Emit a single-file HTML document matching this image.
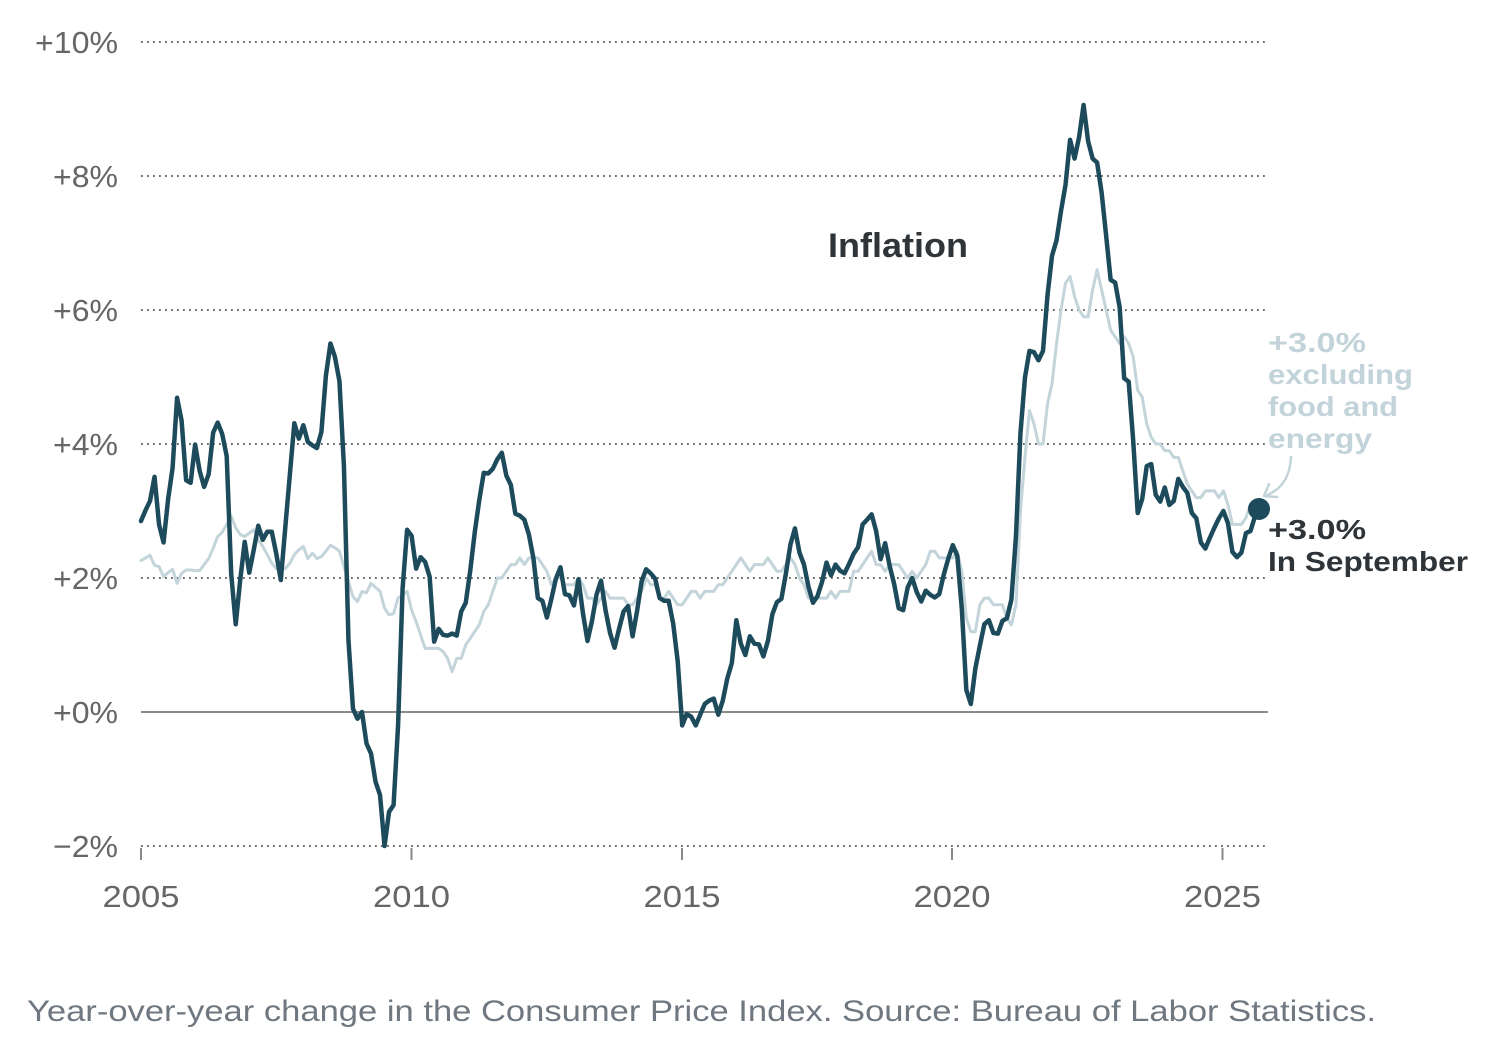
<!DOCTYPE html>
<html>
<head>
<meta charset="utf-8">
<style>
  html, body { margin:0; padding:0; background:#ffffff; }
  body { width:1504px; height:1060px; overflow:hidden; }
  svg { display:block; }
  text { font-family:"Liberation Sans", "DejaVu Sans", sans-serif; }
</style>
</head>
<body>
<svg width="1504" height="1060" viewBox="0 0 1504 1060" xmlns="http://www.w3.org/2000/svg">
  <!-- gridlines -->
  <g stroke="#555" stroke-width="1.8" stroke-dasharray="1.8 4.2" fill="none">
    <line x1="141" y1="42" x2="1268" y2="42"/>
    <line x1="141" y1="176" x2="1268" y2="176"/>
    <line x1="141" y1="310" x2="1268" y2="310"/>
    <line x1="141" y1="444" x2="1268" y2="444"/>
    <line x1="141" y1="578" x2="1268" y2="578"/>
    <line x1="141" y1="846" x2="1268" y2="846"/>
  </g>
  <line x1="141" y1="712" x2="1268" y2="712" stroke="#8a8a8a" stroke-width="2"/>
  <!-- ticks -->
  <g stroke="#8a8a8a" stroke-width="2">
    <line x1="141" y1="848" x2="141" y2="860"/>
    <line x1="411.5" y1="848" x2="411.5" y2="860"/>
    <line x1="682" y1="848" x2="682" y2="860"/>
    <line x1="952" y1="848" x2="952" y2="860"/>
    <line x1="1222.5" y1="848" x2="1222.5" y2="860"/>
  </g>
  <!-- y labels -->
  <g fill="#666" font-size="31" text-anchor="end">
    <text x="118" y="53" textLength="83" lengthAdjust="spacingAndGlyphs">+10%</text>
    <text x="118" y="187" textLength="65" lengthAdjust="spacingAndGlyphs">+8%</text>
    <text x="118" y="321" textLength="65" lengthAdjust="spacingAndGlyphs">+6%</text>
    <text x="118" y="455" textLength="65" lengthAdjust="spacingAndGlyphs">+4%</text>
    <text x="118" y="589" textLength="65" lengthAdjust="spacingAndGlyphs">+2%</text>
    <text x="118" y="723" textLength="65" lengthAdjust="spacingAndGlyphs">+0%</text>
    <text x="118" y="857" textLength="65" lengthAdjust="spacingAndGlyphs">−2%</text>
  </g>
  <!-- x labels -->
  <g fill="#666" font-size="31" text-anchor="middle">
    <text x="141" y="907" textLength="77" lengthAdjust="spacingAndGlyphs">2005</text>
    <text x="411.5" y="907" textLength="77" lengthAdjust="spacingAndGlyphs">2010</text>
    <text x="682" y="907" textLength="77" lengthAdjust="spacingAndGlyphs">2015</text>
    <text x="952" y="907" textLength="77" lengthAdjust="spacingAndGlyphs">2020</text>
    <text x="1222.5" y="907" textLength="77" lengthAdjust="spacingAndGlyphs">2025</text>
  </g>

  <!-- core series -->
  <g transform="matrix(4.51 0 0 -67 141 712)">
    <polyline fill="none" stroke="#c3d4da" stroke-width="3" stroke-linejoin="round" stroke-linecap="round" vector-effect="non-scaling-stroke"
      points="0,2.26 1,2.30 2,2.34 3,2.19 4,2.17 5,2.02 6,2.08 7,2.13 8,1.92 9,2.07 10,2.12 11,2.12
12,2.11 13,2.11 14,2.20 15,2.29 16,2.44 17,2.62 18,2.68 19,2.80 20,2.92 21,2.75 22,2.65 23,2.62
24,2.67 25,2.72 26,2.57 27,2.47 28,2.35 29,2.22 30,2.14 31,2.14 32,2.14 33,2.22 34,2.35 35,2.42
36,2.47 37,2.29 38,2.37 39,2.29 40,2.32 41,2.40 42,2.49 43,2.45 44,2.40 45,2.17 46,1.95 47,1.72
48,1.65 49,1.80 50,1.78 51,1.92 52,1.86 53,1.80 54,1.55 55,1.45 56,1.47 57,1.70 58,1.75 59,1.80
60,1.52 61,1.35 62,1.15 63,0.95 64,0.95 65,0.95 66,0.95 67,0.90 68,0.80 69,0.60 70,0.80 71,0.80
72,1.00 73,1.10 74,1.20 75,1.30 76,1.50 77,1.60 78,1.80 79,2.00 80,2.00 81,2.10 82,2.20 83,2.20
84,2.30 85,2.20 86,2.30 87,2.30 88,2.30 89,2.20 90,2.10 91,1.90 92,2.00 93,2.00 94,1.90 95,1.90
96,1.90 97,2.00 98,1.90 99,1.70 100,1.70 101,1.60 102,1.70 103,1.80 104,1.70 105,1.70 106,1.70 107,1.70
108,1.60 109,1.60 110,1.70 111,1.80 112,2.00 113,1.90 114,1.90 115,1.70 116,1.70 117,1.80 118,1.70 119,1.60
120,1.60 121,1.70 122,1.80 123,1.80 124,1.70 125,1.80 126,1.80 127,1.80 128,1.90 129,1.90 130,2.00 131,2.10
132,2.20 133,2.30 134,2.20 135,2.10 136,2.20 137,2.20 138,2.20 139,2.30 140,2.20 141,2.10 142,2.10 143,2.20
144,2.30 145,2.20 146,2.00 147,1.90 148,1.70 149,1.70 150,1.70 151,1.70 152,1.70 153,1.80 154,1.70 155,1.80
156,1.80 157,1.80 158,2.10 159,2.10 160,2.20 161,2.30 162,2.40 163,2.20 164,2.20 165,2.10 166,2.20 167,2.20
168,2.20 169,2.10 170,2.00 171,2.10 172,2.00 173,2.10 174,2.20 175,2.40 176,2.40 177,2.30 178,2.30 179,2.30
180,2.30 181,2.40 182,2.10 183,1.40 184,1.20 185,1.20 186,1.60 187,1.70 188,1.70 189,1.60 190,1.60 191,1.60
192,1.40 193,1.30 194,1.60 195,3.00 196,3.80 197,4.50 198,4.30 199,4.00 200,4.00 201,4.60 202,4.90 203,5.50
204,6.00 205,6.40 206,6.50 207,6.20 208,6.00 209,5.90 210,5.90 211,6.30 212,6.60 213,6.30 214,6.00 215,5.70
216,5.60 217,5.50 218,5.60 219,5.50 220,5.30 221,4.80 222,4.70 223,4.30 224,4.10 225,4.00 226,4.00 227,3.90
228,3.90 229,3.80 230,3.80 231,3.60 232,3.40 233,3.30 234,3.20 235,3.20 236,3.30 237,3.30 238,3.30 239,3.20
240,3.30 241,3.10 242,2.80 243,2.80 244,2.80 245,2.90 246,3.10 247,3.10 248,3.00"/>
  </g>

  <!-- headline series -->
  <g transform="matrix(4.51 0 0 -67 141 712)">
    <polyline fill="none" stroke="#1d4b5c" stroke-width="4.5" stroke-linejoin="round" stroke-linecap="round" vector-effect="non-scaling-stroke"
      points="0,2.85 1,3.01 2,3.15 3,3.51 4,2.80 5,2.53 6,3.17 7,3.64 8,4.69 9,4.35 10,3.46 11,3.42
12,3.99 13,3.60 14,3.36 15,3.55 16,4.17 17,4.32 18,4.15 19,3.82 20,2.06 21,1.31 22,1.97 23,2.54
24,2.08 25,2.42 26,2.78 27,2.57 28,2.69 29,2.69 30,2.36 31,1.97 32,2.76 33,3.54 34,4.31 35,4.08
36,4.28 37,4.03 38,3.98 39,3.94 40,4.18 41,5.02 42,5.50 43,5.30 44,4.94 45,3.66 46,1.07 47,0.05
48,-0.10 49,0.00 50,-0.47 51,-0.62 52,-1.04 53,-1.24 54,-2.00 55,-1.49 56,-1.39 57,-0.20 58,1.84 59,2.72
60,2.63 61,2.14 62,2.31 63,2.24 64,2.02 65,1.05 66,1.24 67,1.15 68,1.14 69,1.17 70,1.14 71,1.50
72,1.63 73,2.11 74,2.68 75,3.16 76,3.57 77,3.56 78,3.63 79,3.77 80,3.87 81,3.53 82,3.39 83,2.96
84,2.93 85,2.87 86,2.65 87,2.30 88,1.70 89,1.66 90,1.41 91,1.69 92,1.99 93,2.16 94,1.76 95,1.74
96,1.59 97,1.98 98,1.47 99,1.06 100,1.36 101,1.75 102,1.96 103,1.52 104,1.18 105,0.96 106,1.24 107,1.50
108,1.58 109,1.13 110,1.51 111,1.95 112,2.13 113,2.07 114,1.99 115,1.70 116,1.66 117,1.66 118,1.32 119,0.76
120,-0.20 121,-0.03 122,-0.07 123,-0.20 124,-0.04 125,0.12 126,0.17 127,0.20 128,-0.04 129,0.17 130,0.50 131,0.73
132,1.37 133,1.02 134,0.85 135,1.13 136,1.02 137,1.01 138,0.83 139,1.06 140,1.46 141,1.64 142,1.69 143,2.07
144,2.50 145,2.74 146,2.38 147,2.20 148,1.87 149,1.63 150,1.73 151,1.94 152,2.23 153,2.04 154,2.20 155,2.11
156,2.07 157,2.21 158,2.36 159,2.46 160,2.80 161,2.87 162,2.95 163,2.70 164,2.28 165,2.52 166,2.18 167,1.91
168,1.55 169,1.52 170,1.86 171,2.00 172,1.79 173,1.65 174,1.81 175,1.75 176,1.71 177,1.76 178,2.05 179,2.29
180,2.49 181,2.33 182,1.54 183,0.33 184,0.12 185,0.65 186,0.99 187,1.31 188,1.37 189,1.18 190,1.17 191,1.36
192,1.40 193,1.68 194,2.62 195,4.16 196,4.99 197,5.39 198,5.37 199,5.25 200,5.39 201,6.22 202,6.81 203,7.04
204,7.48 205,7.87 206,8.54 207,8.26 208,8.58 209,9.06 210,8.52 211,8.26 212,8.20 213,7.75 214,7.11 215,6.45
216,6.41 217,6.04 218,4.98 219,4.93 220,4.05 221,2.97 222,3.18 223,3.67 224,3.70 225,3.24 226,3.14 227,3.35
228,3.09 229,3.15 230,3.48 231,3.36 232,3.27 233,2.97 234,2.89 235,2.53 236,2.44 237,2.60 238,2.75 239,2.89
240,3.00 241,2.82 242,2.39 243,2.31 244,2.38 245,2.67 246,2.70 247,2.92 248,3.01"/>
  </g>

  <!-- end dot -->
  <circle cx="1259" cy="509" r="11" fill="#1d4b5c"/>

  <!-- title -->
  <text x="828" y="257" font-size="34" font-weight="bold" fill="#2f3439" textLength="140" lengthAdjust="spacingAndGlyphs">Inflation</text>

  <!-- core annotation -->
  <g fill="#c2d3d9" font-size="28" font-weight="bold">
    <text x="1268" y="352" textLength="98" lengthAdjust="spacingAndGlyphs">+3.0%</text>
    <text x="1268" y="384" textLength="145" lengthAdjust="spacingAndGlyphs">excluding</text>
    <text x="1268" y="416" textLength="130" lengthAdjust="spacingAndGlyphs">food and</text>
    <text x="1268" y="448" textLength="104" lengthAdjust="spacingAndGlyphs">energy</text>
  </g>
  <!-- arrow -->
  <g fill="none" stroke="#c2d3d9" stroke-width="2.5" stroke-linecap="round" stroke-linejoin="round">
    <path d="M1291,457 C1290,478 1281,490 1265,496"/>
    <path d="M1269,484 L1264,496 L1277,497"/>
  </g>

  <!-- headline annotation -->
  <g fill="#2f3439" font-size="28" font-weight="bold">
    <text x="1268" y="539" textLength="98" lengthAdjust="spacingAndGlyphs">+3.0%</text>
    <text x="1268" y="571" textLength="200" lengthAdjust="spacingAndGlyphs">In September</text>
  </g>

  <!-- footer -->
  <text x="27" y="1021" font-size="30" fill="#6f7780" textLength="1349" lengthAdjust="spacingAndGlyphs">Year-over-year change in the Consumer Price Index. Source: Bureau of Labor Statistics.</text>
</svg>
</body>
</html>
